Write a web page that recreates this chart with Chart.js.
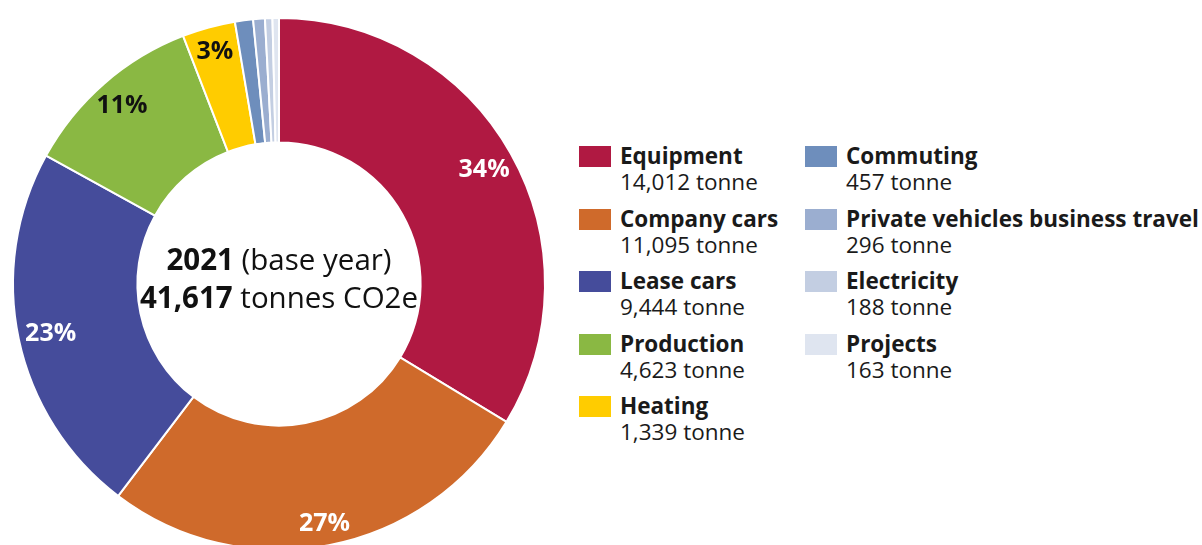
<!DOCTYPE html>
<html>
<head>
<meta charset="utf-8">
<title>Emissions 2021</title>
<script src="https://cdn.jsdelivr.net/npm/chart.js@4.4.1/dist/chart.umd.min.js"></script>
<style>
  body {
    margin: 0;
    width: 1202px;
    height: 545px;
    overflow: hidden;
    background: #fff;
    position: relative;
    font-family: "Open Sans", sans-serif;
    color: #1a1a1a;
  }
  #chart-box {
    position: absolute;
    left: 0;
    top: 0;
    width: 558px;
    height: 568px;
  }
  #legend .item {
    position: absolute;
    width: 420px;
    height: 60px;
  }
  #legend .swatch {
    position: absolute;
    left: 0;
    top: 0;
    width: 32px;
    height: 21px;
  }
  #legend .txt {
    position: absolute;
    left: 41px;
    top: -3px;
    font-size: 22.5px;
    line-height: 26px;
    white-space: nowrap;
  }
  #legend .name { font-weight: bold; }
</style>
</head>
<body>
<div id="chart-box"><canvas id="emissions-chart" width="558" height="568"></canvas></div>
<div id="legend"></div>

<script>
var categories = ['Equipment', 'Company cars', 'Lease cars', 'Production', 'Heating',
    'Commuting', 'Private vehicles business travel', 'Electricity', 'Projects'];
var tonnes = [14012, 11095, 9444, 4623, 1339, 457, 296, 188, 163];
var colors = ['#b01942', '#cf6a2b', '#454c9b', '#8ab843', '#ffcc00',
    '#6e8ebc', '#9baed0', '#c3cee2', '#dfe5f0'];
var labelColors = ['#fff', '#fff', '#fff', '#111', '#111', '#111', '#111', '#111', '#111'];
var baseYear = 2021;

var total = tonnes.reduce(function (a, b) { return a + b; }, 0);

function fmt(n) {
    return n.toLocaleString('en-US');
}

// legend: two columns, five rows in the first
var legend = document.getElementById('legend');
categories.forEach(function (name, i) {
    var col = i < 5 ? 0 : 1;
    var row = i < 5 ? i : i - 5;
    var item = document.createElement('div');
    item.className = 'item';
    item.style.left = (579 + col * 226) + 'px';
    item.style.top = (146 + row * 62.5) + 'px';
    item.innerHTML = '<div class="swatch" style="background:' + colors[i] + '"></div>' +
        '<div class="txt"><div class="name">' + name + '</div><div>' + fmt(tonnes[i]) + ' tonne</div></div>';
    legend.appendChild(item);
});

// percentage labels on the bigger slices
var sliceLabels = {
    id: 'sliceLabels',
    afterDatasetsDraw: function (chart) {
        var ctx = chart.ctx;
        var meta = chart.getDatasetMeta(0);
        ctx.save();
        ctx.font = 'bold 25px "Open Sans"';
        ctx.textAlign = 'center';
        ctx.textBaseline = 'alphabetic';
        meta.data.forEach(function (arc, i) {
            var pct = tonnes[i] / total * 100;
            if (pct < 2) return;
            var p = arc.getProps(['x', 'y', 'startAngle', 'endAngle']);
            var mid = (p.startAngle + p.endAngle) / 2;
            var s = Math.sin(mid);
            var r = 233 + 10 * s * s;
            ctx.fillStyle = labelColors[i];
            ctx.fillText(Math.round(pct) + '%', p.x + Math.cos(mid) * r, p.y + s * r + 9);
        });
        ctx.restore();
    }
};

// two lines in the hole, bold number then plain text
var centerText = {
    id: 'centerText',
    afterDraw: function (chart) {
        var ctx = chart.ctx;
        var arc = chart.getDatasetMeta(0).data[0];
        var cx = arc.x;
        var lines = [
            [String(baseYear), ' (base year)', 270],
            [fmt(total), ' tonnes CO2e', 308]
        ];
        ctx.save();
        ctx.fillStyle = '#111';
        ctx.textBaseline = 'alphabetic';
        ctx.textAlign = 'left';
        lines.forEach(function (ln) {
            ctx.font = 'bold 29.5px "Open Sans"';
            var w1 = ctx.measureText(ln[0]).width;
            ctx.font = '29.5px "Open Sans"';
            var w2 = ctx.measureText(ln[1]).width;
            var x = cx - (w1 + w2) / 2;
            ctx.font = 'bold 29.5px "Open Sans"';
            ctx.fillText(ln[0], x, ln[2]);
            ctx.font = '29.5px "Open Sans"';
            ctx.fillText(ln[1], x + w1, ln[2]);
        });
        ctx.restore();
    }
};

var emissionsChart = new Chart(document.getElementById('emissions-chart'), {
    type: 'doughnut',
    data: {
        labels: categories,
        datasets: [{
            data: tonnes,
            backgroundColor: colors,
            borderColor: '#fff',
            borderWidth: 2,
        }]
    },
    options: {
        responsive: false,
        animation: false,
        radius: 266,
        cutout: 148,
        layout: { padding: 0 },
        plugins: {
            legend: { display: false },
            tooltip: { enabled: false },
        },
    },
    plugins: [sliceLabels, centerText],
});
</script>
</body>
</html>
